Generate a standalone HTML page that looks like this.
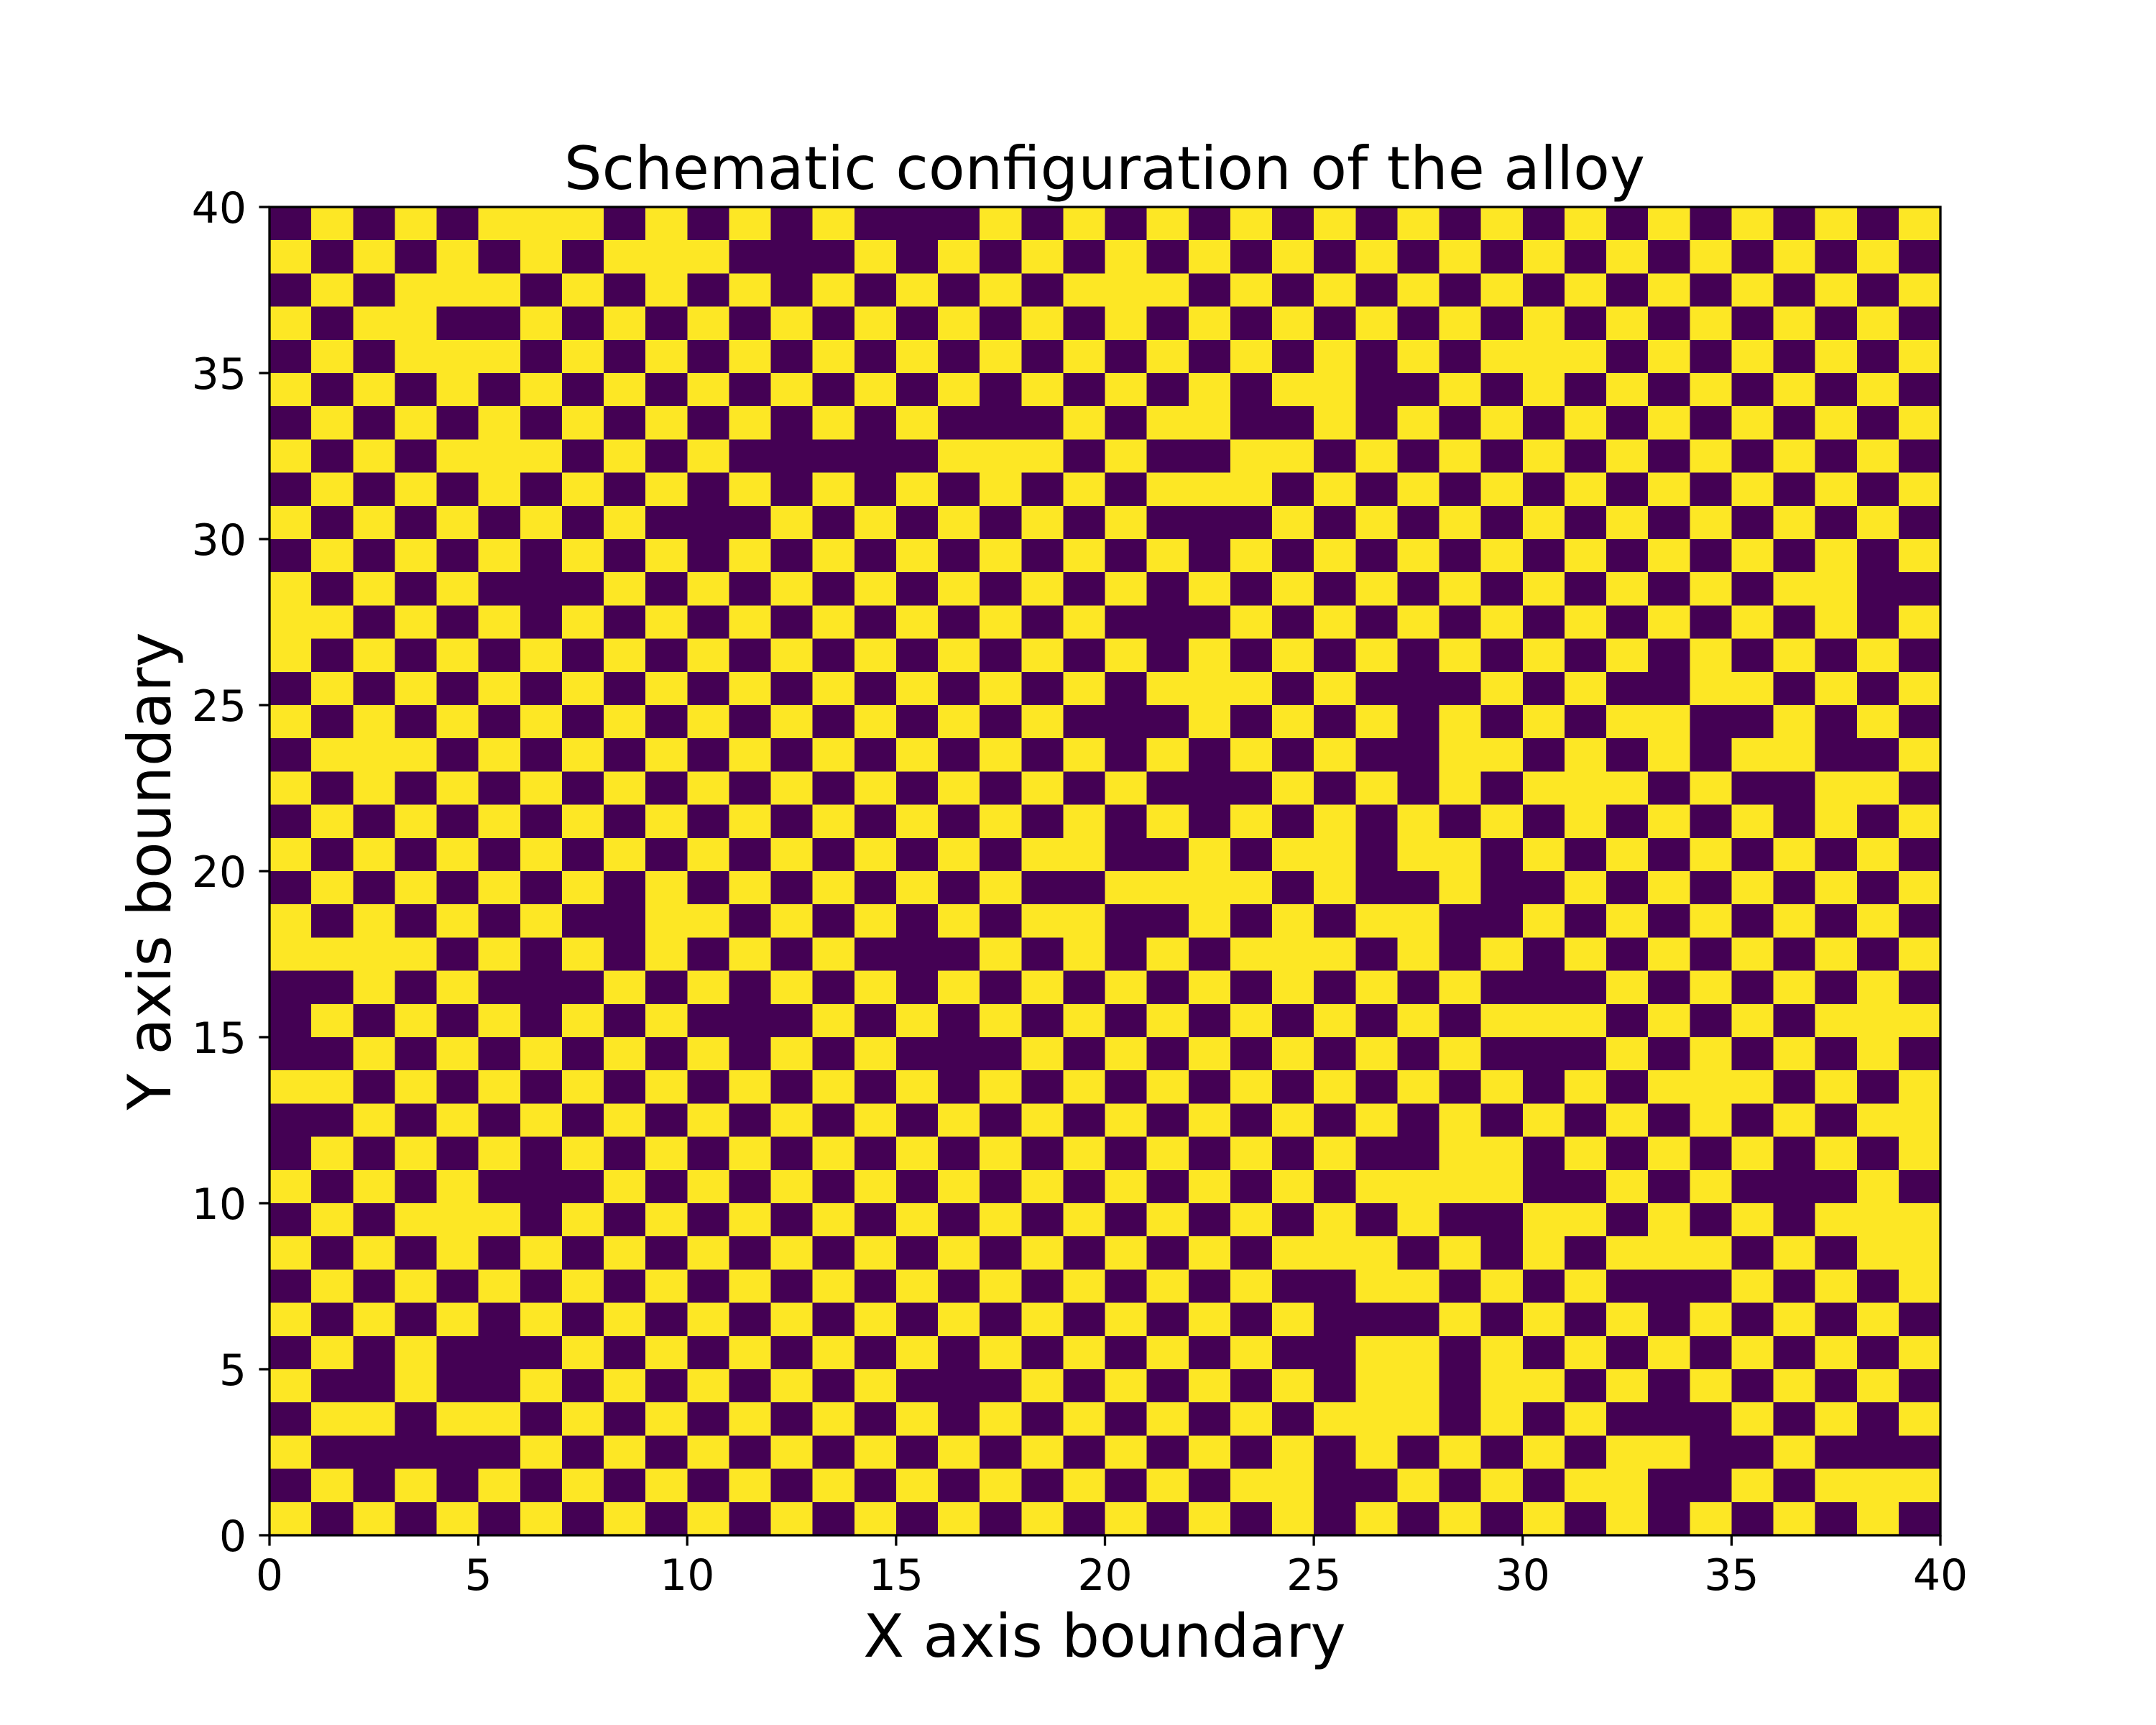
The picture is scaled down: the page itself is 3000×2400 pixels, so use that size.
<!DOCTYPE html>
<html>
<head>
<meta charset="utf-8">
<style>
  html, body { margin: 0; padding: 0; background: #ffffff; }
  svg { display: block; }
  text { font-family: "DejaVu Sans", "Liberation Sans", sans-serif; fill: #000; }
</style>
</head>
<body>
<svg id="chart" width="3000" height="2400" viewBox="0 0 3000 2400" xmlns="http://www.w3.org/2000/svg">
  <rect x="0" y="0" width="3000" height="2400" fill="#ffffff"/>
  <g id="cells" shape-rendering="crispEdges"></g>
  <g id="axes"></g>
  <text x="1537" y="263" font-size="83" text-anchor="middle">Schematic configuration of the alloy</text>
  <text x="1537" y="2305" font-size="83" text-anchor="middle">X axis boundary</text>
  <text x="0" y="0" font-size="83" text-anchor="middle" transform="translate(237,1212) rotate(-90)">Y axis boundary</text>
</svg>
<script>
// Lattice occupancy, rows listed from top (y = 39..40) to bottom (y = 0..1). P = species A (purple), Y = species B (yellow)
const latticeRows = [
  "PYPYPYYYPYPYPYPPPYPY" + "PYPYPYPYPYPYPYPYPYPY",
  "YPYPYPYPYYYPPPYPYPYP" + "YPYPYPYPYPYPYPYPYPYP",
  "PYPYYYPYPYPYPYPYPYPY" + "YYPYPYPYPYPYPYPYPYPY",
  "YPYYPPYPYPYPYPYPYPYP" + "YPYPYPYPYPYPYPYPYPYP",
  "PYPYYYPYPYPYPYPYPYPY" + "PYPYPYPYPYYYPYPYPYPY",
  "YPYPYPYPYPYPYPYPYPYP" + "YPYPYYPPYPYPYPYPYPYP",
  "PYPYPYPYPYPYPYPYPPPY" + "PYYPPYPYPYPYPYPYPYPY",
  "YPYPYYYPYPYPPPPPYYYP" + "YPPYYPYPYPYPYPYPYPYP",
  "PYPYPYPYPYPYPYPYPYPY" + "PYYYPYPYPYPYPYPYPYPY",
  "YPYPYPYPYPPPYPYPYPYP" + "YPPPYPYPYPYPYPYPYPYP",
  "PYPYPYPYPYPYPYPYPYPY" + "PYPYPYPYPYPYPYPYPYPY",
  "YPYPYPPPYPYPYPYPYPYP" + "YPYPYPYPYPYPYPYPYYPP",
  "YYPYPYPYPYPYPYPYPYPY" + "PPPYPYPYPYPYPYPYPYPY",
  "YPYPYPYPYPYPYPYPYPYP" + "YPYPYPYPYPYPYPYPYPYP",
  "PYPYPYPYPYPYPYPYPYPY" + "PYYYPYPPPYPYPPYYPYPY",
  "YPYPYPYPYPYPYPYPYPYP" + "PPYPYPYPYPYPYYPPYPYP",
  "PYYYPYPYPYPYPYPYPYPY" + "PYPYPYPPYYPYPYPYYPPY",
  "YPYPYPYPYPYPYPYPYPYP" + "YPPPYPYPYPYYYPYPPYYP",
  "PYPYPYPYPYPYPYPYPYPY" + "PYPYPYPYPYPYPYPYPYPY",
  "YPYPYPYPYPYPYPYPYPYY" + "PPYPYYPYYPYPYPYPYPYP",
  "PYPYPYPYPYPYPYPYPYPP" + "YYYYPYPPYPPYPYPYPYPY",
  "YPYPYPYPPYYPYPYPYPYY" + "PPYPYPYYPPYPYPYPYPYP",
  "YYYYPYPYPYPYPYPPPYPY" + "PYPYYYPYPYPYPYPYPYPY",
  "PPYPYPPPYPYPYPYPYPYP" + "YPYPYPYPYPPPYPYPYPYP",
  "PYPYPYPYPYPPPYPYPYPY" + "PYPYPYPYPYYYPYPYPYYY",
  "PPYPYPYPYPYPYPYPPPYP" + "YPYPYPYPYPPPYPYPYPYP",
  "YYPYPYPYPYPYPYPYPYPY" + "PYPYPYPYPYPYPYYYPYPY",
  "PPYPYPYPYPYPYPYPYPYP" + "YPYPYPYPYPYPYPYPYPYY",
  "PYPYPYPYPYPYPYPYPYPY" + "PYPYPYPPYYPYPYPYPYPY",
  "YPYPYPPPYPYPYPYPYPYP" + "YPYPYPYYYYPPYPYPPPYP",
  "PYPYYYPYPYPYPYPYPYPY" + "PYPYPYPYPPYYPYPYPYYY",
  "YPYPYPYPYPYPYPYPYPYP" + "YPYPYYYPYPYPYYYPYPYY",
  "PYPYPYPYPYPYPYPYPYPY" + "PYPYPPYYPYPYPPPYPYPY",
  "YPYPYPYPYPYPYPYPYPYP" + "YPYPYPPPYPYPYPYPYPYP",
  "PYPYPPPYPYPYPYPYPYPY" + "PYPYPPYYPYPYPYPYPYPY",
  "YPPYPPYPYPYPYPYPPPYP" + "YPYPYPYYPYYPYPYPYPYP",
  "PYYPYYPYPYPYPYPYPYPY" + "PYPYPYYYPYPYPPPYPYPY",
  "YPPPPPYPYPYPYPYPYPYP" + "YPYPYPYPYPYPYYPPYPPP",
  "PYPYPYPYPYPYPYPYPYPY" + "PYPYYPPYPYPYYPPYPYYY",
  "YPYPYPYPYPYPYPYPYPYP" + "YPYPYPYPYPYPYPYPYPYP"
];
const xTickValues = [0, 5, 10, 15, 20, 25, 30, 35, 40];
const yTickValues = [0, 5, 10, 15, 20, 25, 30, 35, 40];
const xDomain = [0, 40];
const yDomain = [0, 40];

const NS = "http://www.w3.org/2000/svg";
const plot = { left: 375, right: 2700, top: 288, bottom: 2136 };
const colorMap = { P: "#440154", Y: "#fde725" };
function xScale(v) { return plot.left + (v - xDomain[0]) / (xDomain[1] - xDomain[0]) * (plot.right - plot.left); }
function yScale(v) { return plot.bottom - (v - yDomain[0]) / (yDomain[1] - yDomain[0]) * (plot.bottom - plot.top); }

const cellsG = document.getElementById("cells");
const nRows = latticeRows.length;
for (let r = 0; r < nRows; r++) {
  const yVal = nRows - 1 - r;
  const row = latticeRows[r];
  for (let c = 0; c < row.length; c++) {
    const x0 = xScale(c), x1 = xScale(c + 1);
    const y0 = yScale(yVal + 1), y1 = yScale(yVal);
    const rect = document.createElementNS(NS, "rect");
    rect.setAttribute("x", x0.toFixed(2));
    rect.setAttribute("y", y0.toFixed(2));
    rect.setAttribute("width", (x1 - x0 + 0.6).toFixed(2));
    rect.setAttribute("height", (y1 - y0 + 0.6).toFixed(2));
    rect.setAttribute("fill", colorMap[row[c]]);
    
    
    cellsG.appendChild(rect);
  }
}

const axesG = document.getElementById("axes");
const frame = document.createElementNS(NS, "rect");
frame.setAttribute("x", plot.left);
frame.setAttribute("y", plot.top);
frame.setAttribute("width", plot.right - plot.left);
frame.setAttribute("height", plot.bottom - plot.top);
frame.setAttribute("fill", "none");
frame.setAttribute("stroke", "#000");
frame.setAttribute("stroke-width", "3.3");


axesG.appendChild(frame);

xTickValues.forEach(function (v) {
  const x = xScale(v);
  const t = document.createElementNS(NS, "line");
  t.setAttribute("x1", x); t.setAttribute("x2", x);
  t.setAttribute("y1", plot.bottom); t.setAttribute("y2", plot.bottom + 14.6);
  t.setAttribute("stroke", "#000"); t.setAttribute("stroke-width", "3.3");
  
  
  axesG.appendChild(t);
  const lbl = document.createElementNS(NS, "text");
  lbl.setAttribute("x", x);
  lbl.setAttribute("y", 2212);
  lbl.setAttribute("font-size", "60");
  lbl.setAttribute("text-anchor", "middle");
  lbl.textContent = String(v);
  
  
  axesG.appendChild(lbl);
});

yTickValues.forEach(function (v) {
  const y = yScale(v);
  const t = document.createElementNS(NS, "line");
  t.setAttribute("x1", plot.left - 14.6); t.setAttribute("x2", plot.left);
  t.setAttribute("y1", y); t.setAttribute("y2", y);
  t.setAttribute("stroke", "#000"); t.setAttribute("stroke-width", "3.3");
  
  
  axesG.appendChild(t);
  const lbl = document.createElementNS(NS, "text");
  lbl.setAttribute("x", 343);
  lbl.setAttribute("y", y + 22);
  lbl.setAttribute("font-size", "60");
  lbl.setAttribute("text-anchor", "end");
  lbl.textContent = String(v);
  
  
  axesG.appendChild(lbl);
});
</script>
</body>
</html>
